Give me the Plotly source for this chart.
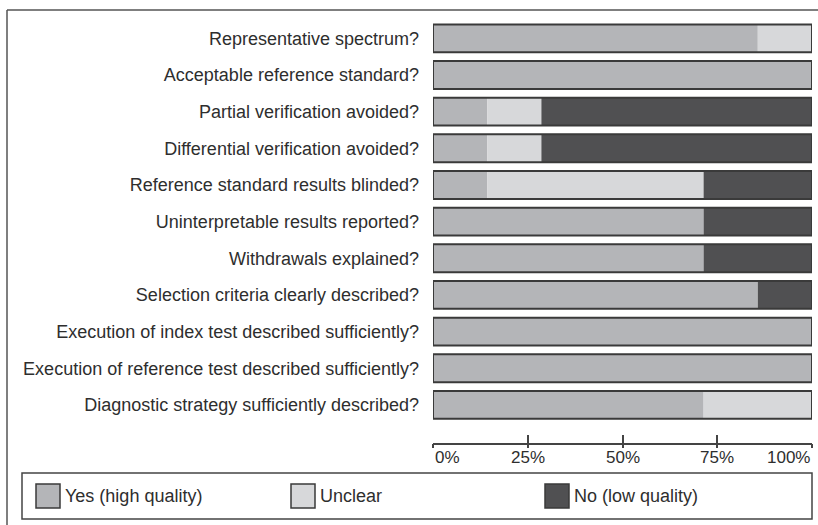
import plotly.graph_objects as go
import numpy as np

categories = [
    "Representative spectrum?",
    "Acceptable reference standard?",
    "Partial verification avoided?",
    "Differential verification avoided?",
    "Reference standard results blinded?",
    "Uninterpretable results reported?",
    "Withdrawals explained?",
    "Selection criteria clearly described?",
    "Execution of index test described sufficiently?",
    "Execution of reference test described sufficiently?",
    "Diagnostic strategy sufficiently described?",
]
yes = [85.7, 100, 14.3, 14.3, 14.3, 71.4, 71.4, 85.7, 100, 100, 71.4]
unclear = [14.3, 0, 14.3, 14.3, 57.1, 0, 0, 0, 0, 0, 28.6]
no = [0, 0, 71.4, 71.4, 28.6, 28.6, 28.6, 14.3, 0, 0, 0]

tick_vals = [0, 25, 50, 75, 100]
tick_labels = ["0%", "25%", "50%", "75%", "100%"]
legend_labels = ["Yes (high quality)", "Unclear", "No (low quality)"]
colors = ["#b4b5b8", "#d7d8da", "#505052"]

W, H = 818, 525
L, R, T, B = 433, 6, 20, 82
PW, PH = W - L - R, H - T - B
FONT = "Liberation Sans, Arial, sans-serif"
TXT = "#2e2e2e"
EDGE = "#3a3a3a"
BW = 0.76


def px(x):
    return (x - L) / PW


def py(y):
    return (H - B - y) / PH


yes_a = np.array(yes)
unc_a = np.array(unclear)
no_a = np.array(no)
bases = [np.zeros_like(yes_a), yes_a, yes_a + unc_a]
vals = [yes_a, unc_a, no_a]

fig = go.Figure()
for name, v, b, c in zip(legend_labels, vals, bases, colors):
    fig.add_trace(go.Bar(
        y=categories, x=v, base=b, orientation="h", name=name,
        marker=dict(color=c, line=dict(width=0)), width=BW,
        showlegend=False, hoverinfo="skip",
    ))
total = yes_a + unc_a + no_a
fig.add_trace(go.Bar(
    y=categories, x=total, base=np.zeros_like(total), orientation="h",
    marker=dict(color="rgba(0,0,0,0)", line=dict(color=EDGE, width=2)),
    width=BW, showlegend=False, hoverinfo="skip", xaxis="x2",
))

shapes = []
annotations = []
# outer frame (cropped)
shapes.append(dict(type="line", xref="paper", yref="paper", x0=px(7), x1=px(7), y0=py(10), y1=py(560),
                   line=dict(color="#555", width=1.5)))
shapes.append(dict(type="line", xref="paper", yref="paper", x0=px(7), x1=px(860), y0=py(10), y1=py(10),
                   line=dict(color="#555", width=1.5)))
# legend box
shapes.append(dict(type="rect", xref="paper", yref="paper", x0=px(22), x1=px(812), y0=py(473), y1=py(519),
                   line=dict(color="#444", width=1.5), fillcolor="white"))
leg_x = [36, 291, 545]
for lx, lab, c in zip(leg_x, legend_labels, colors):
    shapes.append(dict(type="rect", xref="paper", yref="paper", x0=px(lx), x1=px(lx + 24), y0=py(484), y1=py(508),
                       line=dict(color=EDGE, width=1.5), fillcolor=c))
    annotations.append(dict(text=lab, xref="paper", yref="paper", x=px(lx + 27), y=py(496),
                            xanchor="left", yanchor="middle", showarrow=False,
                            font=dict(family=FONT, size=18, color=TXT)))

for i, (tv, tl) in enumerate(zip(tick_vals, tick_labels)):
    anchor = "left" if i == 0 else ("right" if i == len(tick_vals) - 1 else "center")
    annotations.append(dict(text=tl, xref="x", yref="paper", x=tv, y=0, yshift=-3,
                            xanchor=anchor, yanchor="top", showarrow=False,
                            font=dict(family=FONT, size=17, color=TXT)))

fig.update_layout(
    width=W, height=H,
    margin=dict(l=L, r=R, t=T, b=B, pad=0),
    paper_bgcolor="white", plot_bgcolor="white",
    barmode="overlay",
    xaxis=dict(range=[0, 100], tickvals=tick_vals, showticklabels=False,
               ticks="inside", ticklen=8, tickwidth=1.5, tickcolor="#444",
               showline=True, linecolor="#444", linewidth=1.5,
               showgrid=False, zeroline=False, fixedrange=True),
    xaxis2=dict(overlaying="x", matches="x", anchor="y", side="bottom", tickvals=tick_vals,
                showticklabels=False, ticks="outside", ticklen=4, tickwidth=1.5, tickcolor="#444",
                showline=False, showgrid=False, zeroline=False),
    yaxis=dict(categoryorder="array", categoryarray=categories,
               range=[10.5 + 0.54, -0.5], showline=False, showgrid=False, zeroline=False,
               ticks="", ticklabelstandoff=13,
               tickfont=dict(family=FONT, size=18, color=TXT)),
    shapes=shapes, annotations=annotations,
    showlegend=False,
)

fig.write_html(
    "out.html",
    config={"displayModeBar": False},
    post_script="document.body.style.margin='0px';document.body.style.padding='0px';"
                "document.body.style.overflow='hidden';",
)
